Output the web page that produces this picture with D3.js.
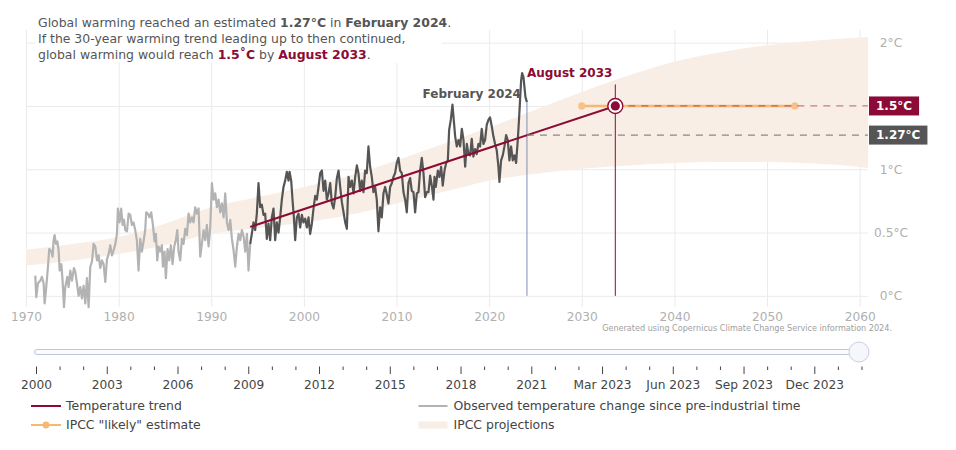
<!DOCTYPE html>
<html><head><meta charset="utf-8">
<script src="https://cdn.jsdelivr.net/npm/d3@7"></script>
<style>
body{margin:0;background:#fff;}
svg{font-family:"DejaVu Sans",Verdana,sans-serif;display:block;}
</style>
</head><body>
<svg id="c" width="956" height="450"></svg>
<script>
// ---------- data ----------
const xTickYears = [1970,1980,1990,2000,2010,2020,2030,2040,2050,2060];
const yTickValues = [0,0.5,1,1.5,2];

const earlyYears = [1971.00,1971.11,1971.29,1971.54,1971.72,1971.90,1972.01,1972.15,1972.37,1972.51,
1972.73,1972.87,1972.98,1973.09,1973.23,1973.38,1973.52,1973.63,1973.81,1973.95,
1974.10,1974.24,1974.46,1974.60,1974.78,1974.96,1975.18,1975.32,1975.50,1975.68,
1975.86,1976.04,1976.22,1976.40,1976.58,1976.76,1976.94,1977.12,1977.30,1977.48,
1977.66,1977.84,1978.02,1978.20,1978.38,1978.56,1978.74,1978.92,1979.10,1979.28,
1979.46,1979.64,1979.82,1979.92,1980.10,1980.28,1980.43,1980.57,1980.72,1980.90,
1981.08,1981.26,1981.43,1981.61,1981.79,1981.97,1982.15,1982.33,1982.51,1982.69,
1982.87,1982.98,1983.16,1983.34,1983.52,1983.70,1983.88,1984.02,1984.17,1984.31,
1984.49,1984.67,1984.78,1984.96,1985.10,1985.28,1985.46,1985.64,1985.82,1986.00,
1986.18,1986.33,1986.47,1986.65,1986.83,1987.01,1987.19,1987.37,1987.55,1987.73,
1987.91,1988.09,1988.27,1988.45,1988.63,1988.81,1988.99,1989.17,1989.35,1989.53,
1989.71,1989.89,1990.07,1990.25,1990.43,1990.61,1990.79,1990.97,1991.15,1991.33,
1991.51,1991.69,1991.87,1992.05,1992.23,1992.41,1992.59,1992.77,1992.95,1993.13,
1993.31,1993.49,1993.67,1993.85,1994.02,1994.20];
const earlyValues = [0.16,-0.01,0.10,0.12,0.15,0.10,-0.06,0.04,0.23,0.37,
0.35,0.31,0.44,0.48,0.41,0.43,0.36,0.20,0.25,0.12,
-0.09,0.07,0.15,0.07,0.20,0.12,0.22,0.19,0.10,0.00,
0.07,-0.02,0.08,-0.06,0.14,-0.09,0.23,0.27,0.41,0.39,
0.28,0.32,0.22,0.28,0.25,0.11,0.29,0.33,0.40,0.32,
0.36,0.41,0.49,0.69,0.58,0.69,0.56,0.60,0.52,0.51,
0.65,0.64,0.56,0.58,0.52,0.44,0.20,0.45,0.35,0.43,
0.52,0.66,0.65,0.62,0.66,0.56,0.43,0.49,0.28,0.39,
0.35,0.40,0.23,0.35,0.14,0.37,0.28,0.40,0.25,0.39,
0.44,0.52,0.35,0.28,0.45,0.41,0.53,0.48,0.65,0.58,
0.62,0.58,0.70,0.65,0.69,0.31,0.41,0.52,0.44,0.56,
0.39,0.54,0.89,0.76,0.81,0.70,0.76,0.66,0.73,0.62,
0.81,0.58,0.52,0.60,0.45,0.36,0.23,0.39,0.49,0.44,
0.52,0.47,0.35,0.49,0.20,0.41];

const recentYears = [1994.20,1994.38,1994.56,1994.74,1994.92,1995.10,1995.28,1995.46,1995.64,1995.82,
1996.00,1996.18,1996.36,1996.54,1996.72,1996.90,1997.08,1997.26,1997.44,1997.62,
1997.80,1997.98,1998.16,1998.34,1998.45,1998.63,1998.77,1998.92,1999.06,1999.24,
1999.42,1999.60,1999.78,1999.96,2000.14,2000.32,2000.50,2000.68,2000.86,2001.04,
2001.22,2001.40,2001.58,2001.76,2001.94,2002.12,2002.30,2002.48,2002.66,2002.84,
2003.02,2003.20,2003.38,2003.56,2003.74,2003.92,2004.10,2004.28,2004.46,
2004.64,2004.82,2005.00,2005.18,2005.36,2005.54,2005.72,2005.89,2006.07,2006.25,
2006.43,2006.61,2006.79,2006.97,2007.15,2007.33,2007.51,2007.69,2007.87,2008.05,
2008.23,2008.41,2008.59,2008.77,2008.95,2009.13,2009.31,2009.49,2009.67,2009.85,
2010.03,2010.21,2010.39,2010.57,2010.75,2010.93,2011.11,2011.29,2011.47,2011.65,
2011.83,2012.01,2012.19,2012.37,2012.55,2012.73,2012.91,2013.09,2013.27,2013.45,
2013.63,2013.81,2013.99,2014.10,2014.24,2014.46,2014.64,2014.82,2014.99,2015.18,
2015.36,2015.54,2015.68,2015.86,2016.04,2016.18,2016.33,2016.51,2016.69,2016.87,
2017.05,2017.23,2017.41,2017.59,2017.77,2017.95,2018.12,2018.30,2018.48,2018.66,
2018.84,2019.02,2019.20,2019.38,2019.56,2019.74,2019.92,2020.10,2020.28,2020.46,
2020.64,2020.82,2021.00,2021.11,2021.29,2021.47,2021.65,2021.83,2022.01,2022.19,
2022.37,2022.55,2022.73,2022.91,2023.09,2023.23,2023.34,2023.45,2023.56,2023.70,
2023.81,2023.92,2024.08];
const recentValues = [0.41,0.49,0.58,0.52,0.65,0.89,0.70,0.72,0.64,0.65,
0.45,0.57,0.44,0.62,0.69,0.44,0.58,0.50,0.62,0.76,
0.86,0.91,0.98,0.91,0.98,0.91,0.76,0.62,0.44,0.62,
0.65,0.54,0.64,0.58,0.61,0.54,0.62,0.49,0.57,0.69,
0.79,0.76,0.86,0.97,0.99,0.83,0.91,0.76,0.81,0.89,
0.73,0.69,0.78,0.93,0.99,0.86,0.74,0.66,0.58,
0.53,0.94,0.86,0.91,0.81,0.94,1.03,0.97,0.83,0.91,
0.82,0.99,0.97,1.18,1.02,0.94,0.82,0.86,0.76,0.51,
0.70,0.62,0.81,0.86,0.80,0.73,0.86,0.89,0.94,0.97,
1.05,1.09,0.99,0.97,0.82,0.76,0.66,0.89,0.93,0.83,
0.82,0.66,0.81,0.82,0.99,1.09,0.97,0.78,0.82,0.82,
0.95,0.87,0.76,0.94,0.86,0.99,0.94,1.02,0.87,0.99,
1.05,1.07,1.31,1.39,1.51,1.39,1.26,1.18,1.23,1.18,
1.32,1.23,1.02,1.20,1.12,1.11,1.24,1.10,1.16,1.12,
1.20,1.18,1.32,1.20,1.23,1.35,1.39,1.41,1.34,1.26,
1.20,1.15,1.02,0.90,1.07,1.11,1.18,1.27,1.23,1.07,
1.18,1.07,1.11,1.05,1.23,1.40,1.55,1.70,1.76,1.73,
1.65,1.57,1.53];

const trendYears = [1994.20, 2033.62];
const trendValues = [0.545, 1.5];

const bandYears = [1970,1975,1980,1985,1990,1995,2000,2005,2010,2015,2020,2025,2030,2035,2040,2045,2050,2055,2060,2060.9];
const bandLow   = [0.24,0.28,0.33,0.40,0.49,0.535,0.58,0.64,0.73,0.82,0.91,0.965,1.005,1.03,1.05,1.057,1.058,1.045,1.018,1.01];
const bandHigh  = [0.365,0.41,0.465,0.57,0.70,0.78,0.86,0.95,1.07,1.20,1.33,1.47,1.61,1.74,1.85,1.925,1.98,2.015,2.04,2.045];

const likelyYears = [2030.0, 2053.0];
const likelyValue = 1.5;

const currentYear = 2024.08, currentValue = 1.27, currentLabel = "February 2024";
const targetYear = 2033.62, targetValue = 1.5, targetLabel = "August 2033";
const targetLineTop = 1.67;

const sliderLabels = ["2000","2003","2006","2009","2012","2015","2018","2021","Mar 2023","Jun 2023","Sep 2023","Dec 2023"];

const legendItems = ["Temperature trend","Observed temperature change since pre-industrial time","IPCC \"likely\" estimate","IPCC projections"];

// ---------- colours ----------
const CRIMSON = "#8b0b36", DARK = "#555555", GREY = "#b3b3b3", ORANGE = "#f6b874", BAND = "#f8eee5", BLUE = "#7d8db5";
const FS = 12.45;

// ---------- layout ----------
const svg = d3.select("#c");
const plot = {left:26, right:868, top:30, bottom:307};
const x = d3.scaleLinear().domain([1970, 2060.9]).range([plot.left, plot.right]);
const y = d3.scaleLinear().domain([-0.088, 2.1]).range([plot.bottom, plot.top]);

// gridlines + x axis
const gx = svg.append("g").attr("transform",`translate(0,${plot.bottom})`)
  .call(d3.axisBottom(x).tickValues(xTickYears).tickFormat(d=>d).tickSize(-(plot.bottom-plot.top)));
gx.select(".domain").remove();
gx.selectAll("line").attr("stroke","#ebebeb");
gx.selectAll("text").attr("y",5.5).attr("fill","#b0b0b0").attr("font-size",12.2).attr("font-family","DejaVu Sans");

// y axis (the 1.5 label sits under the 1.5°C value box in the reference, so it is left blank)
const gy = svg.append("g").attr("transform",`translate(${plot.right},0)`)
  .call(d3.axisRight(y).tickValues(yTickValues).tickFormat(d=>d===targetValue?"":d+"°C").tickSize(-(plot.right-plot.left)));
gy.select(".domain").remove();
gy.selectAll("line").attr("stroke","#ebebeb");
gy.selectAll("text").attr("x",23).attr("text-anchor","middle").attr("fill","#b0b0b0").attr("font-size",12.2).attr("font-family","DejaVu Sans");

// band
const bandData = bandYears.map((yr,i)=>({yr, lo:bandLow[i], hi:bandHigh[i]}));
svg.append("path").datum(bandData)
  .attr("d", d3.area().curve(d3.curveMonotoneX).x(d=>x(d.yr)).y0(d=>y(d.lo)).y1(d=>y(d.hi)))
  .attr("fill", BAND);

// title box
svg.append("rect").attr("x",35).attr("y",0).attr("width",407).attr("height",63).attr("fill","#fff");
const title = svg.append("text").attr("x",38).attr("y",27).attr("font-size",FS).attr("fill","#555");
const l1 = title.append("tspan").attr("x",38).attr("y",27);
l1.append("tspan").text("Global warming reached an estimated ");
l1.append("tspan").attr("font-weight","bold").text("1.27°C");
l1.append("tspan").text(" in ");
l1.append("tspan").attr("font-weight","bold").text("February 2024");
l1.append("tspan").text(".");
title.append("tspan").attr("x",38).attr("y",43).text("If the 30-year warming trend leading up to then continued,");
const l3 = title.append("tspan").attr("x",38).attr("y",58.5);
l3.append("tspan").text("global warming would reach ");
l3.append("tspan").attr("font-weight","bold").attr("fill",CRIMSON).text("1.5˚C");
l3.append("tspan").text(" by ");
l3.append("tspan").attr("font-weight","bold").attr("fill",CRIMSON).text("August 2033");
l3.append("tspan").text(".");

// attribution
svg.append("text").attr("x",892).attr("y",331).attr("text-anchor","end")
  .attr("font-size",8.1).attr("fill","#a0a0a0").text("Generated using Copernicus Climate Change Service information 2024.");

// observed lines
const line = d3.line().x(d=>x(d[0])).y(d=>y(d[1]));
svg.append("path").datum(d3.zip(earlyYears, earlyValues)).attr("d", line)
  .attr("fill","none").attr("stroke",GREY).attr("stroke-width",2.2).attr("stroke-linejoin","round");
svg.append("path").datum(d3.zip(recentYears, recentValues)).attr("d", line)
  .attr("fill","none").attr("stroke",DARK).attr("stroke-width",2.2).attr("stroke-linejoin","round");

// vertical markers
const lastVal = recentValues[recentValues.length-1];
svg.append("line").attr("x1",x(currentYear)).attr("x2",x(currentYear))
  .attr("y1",y(lastVal)).attr("y2",y(0)).attr("stroke",BLUE).attr("stroke-width",1);
svg.append("line").attr("x1",x(targetYear)).attr("x2",x(targetYear))
  .attr("y1",y(targetLineTop)).attr("y2",y(0)).attr("stroke",CRIMSON).attr("stroke-width",1);

// trend
svg.append("path").datum(d3.zip(trendYears, trendValues)).attr("d", line)
  .attr("fill","none").attr("stroke",CRIMSON).attr("stroke-width",2);

// 1.27 dashed
svg.append("line").attr("x1",x(currentYear)).attr("x2",plot.right)
  .attr("y1",y(currentValue)).attr("y2",y(currentValue))
  .attr("stroke","#888").attr("stroke-width",1.3).attr("stroke-dasharray","7,6");

// likely range
svg.append("line").attr("x1",x(likelyYears[0])).attr("x2",x(likelyYears[1]))
  .attr("y1",y(likelyValue)).attr("y2",y(likelyValue)).attr("stroke",ORANGE).attr("stroke-width",2.5);
svg.selectAll(".ld").data(likelyYears).join("circle").attr("cx",d=>x(d)).attr("cy",y(likelyValue))
  .attr("r",3.6).attr("fill","#f8c08a");

// 1.5 dashed
svg.append("line").attr("x1",x(targetYear)).attr("x2",plot.right)
  .attr("y1",y(targetValue)).attr("y2",y(targetValue))
  .attr("stroke",CRIMSON).attr("stroke-opacity",0.5).attr("stroke-width",1.3).attr("stroke-dasharray","7,6");

// marker
svg.append("circle").attr("cx",x(targetYear)).attr("cy",y(targetValue)).attr("r",7.5)
  .attr("fill","#fff").attr("stroke",CRIMSON).attr("stroke-width",1.4);
svg.append("circle").attr("cx",x(targetYear)).attr("cy",y(targetValue)).attr("r",4.6).attr("fill",CRIMSON);

// annotations
svg.append("text").attr("x",x(currentYear)-6).attr("y",97.5).attr("text-anchor","end")
  .attr("font-size",12).attr("font-weight","bold").attr("fill",DARK).text(currentLabel);
svg.append("text").attr("x",x(currentYear)).attr("y",77).attr("font-size",12)
  .attr("font-weight","bold").attr("fill",CRIMSON).text(targetLabel);

// value boxes
function valueBox(v, fill){
  const g = svg.append("g");
  const t = g.append("text").attr("x",876).attr("y",y(v)).attr("dy","0.36em")
    .attr("font-size",12).attr("font-weight","bold").attr("fill","#fff").text(v+"°C");
  const w = t.node().getComputedTextLength();
  g.insert("rect","text").attr("x",869).attr("y",y(v)-9.5).attr("width",w+14).attr("height",19).attr("fill",fill);
}
valueBox(targetValue, CRIMSON);
valueBox(currentValue, DARK);

// ---------- slider ----------
svg.append("rect").attr("x",34.5).attr("y",349.5).attr("width",826).attr("height",5).attr("rx",2.5)
  .attr("fill","#fbfcfe").attr("stroke","#bcc5dc").attr("stroke-width",1);
svg.append("circle").attr("cx",859).attr("cy",352).attr("r",10).attr("fill","#f6f7fb").attr("stroke","#c9d0e2").attr("stroke-width",1);

const s = d3.scaleLinear().domain([0, sliderLabels.length-1]).range([36, 814.3]);
const minorIdx = d3.range(0, sliderLabels.length).flatMap(i=>[i+1/3, i+2/3]);
const gm = svg.append("g").attr("transform","translate(0,366.5)")
  .call(d3.axisBottom(s).tickValues(minorIdx).tickFormat("").tickSize(3.5));
gm.select(".domain").remove();
gm.selectAll("line").attr("stroke","#444");
const gs = svg.append("g").attr("transform","translate(0,366.5)")
  .call(d3.axisBottom(s).tickValues(d3.range(sliderLabels.length)).tickFormat(i=>sliderLabels[i]).tickSize(7.5));
gs.select(".domain").remove();
gs.selectAll("line").attr("stroke","#444");
gs.selectAll("text").attr("y",14).attr("font-size",12.2).attr("font-family","DejaVu Sans").attr("fill","#444");

// ---------- legend ----------
const lg = svg.append("g").attr("font-size",FS).attr("fill","#444");
const lx = [31, 418.5], ly = [406, 425];
lg.append("line").attr("x1",lx[0]).attr("x2",lx[0]+30).attr("y1",ly[0]).attr("y2",ly[0]).attr("stroke",CRIMSON).attr("stroke-width",2);
lg.append("text").attr("x",lx[0]+35).attr("y",ly[0]+4.3).text(legendItems[0]);
lg.append("line").attr("x1",lx[1]).attr("x2",lx[1]+29).attr("y1",ly[0]).attr("y2",ly[0]).attr("stroke",GREY).attr("stroke-width",2);
lg.append("text").attr("x",lx[1]+35).attr("y",ly[0]+4.3).text(legendItems[1]);
lg.append("line").attr("x1",lx[0]).attr("x2",lx[0]+30).attr("y1",ly[1]).attr("y2",ly[1]).attr("stroke",ORANGE).attr("stroke-width",2);
lg.append("circle").attr("cx",lx[0]+15).attr("cy",ly[1]).attr("r",3.4).attr("fill",ORANGE);
lg.append("text").attr("x",lx[0]+35).attr("y",ly[1]+4.3).text(legendItems[2]);
lg.append("rect").attr("x",lx[1]).attr("y",ly[1]-3.5).attr("width",29).attr("height",7).attr("fill",BAND);
lg.append("text").attr("x",lx[1]+35).attr("y",ly[1]+4.3).text(legendItems[3]);
</script>
</body></html>
